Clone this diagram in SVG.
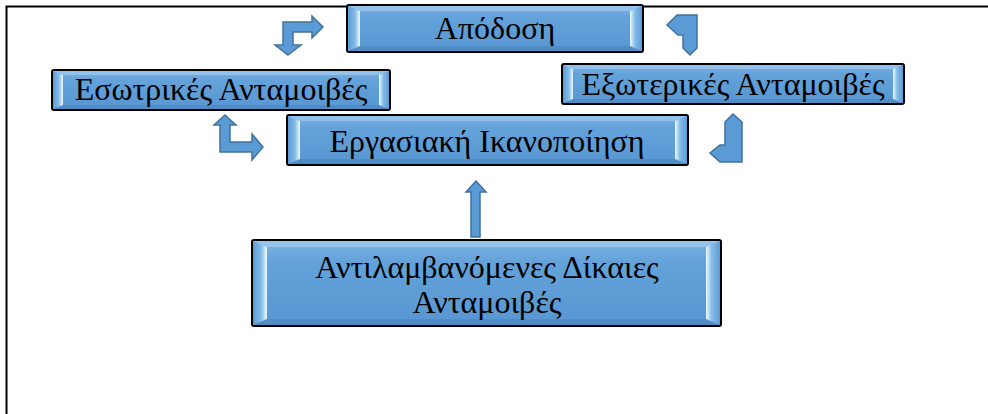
<svg xmlns="http://www.w3.org/2000/svg" width="988" height="414" viewBox="0 0 988 414">
<defs>
<linearGradient id="face" x1="0" y1="0" x2="0" y2="1">
<stop offset="0" stop-color="#7fb3e4"/>
<stop offset="0.25" stop-color="#64a2da"/>
<stop offset="1" stop-color="#5896d2"/>
</linearGradient>
<linearGradient id="bevL" x1="0" y1="0" x2="1" y2="0">
<stop offset="0" stop-color="#5b9bd5"/>
<stop offset="0.6" stop-color="#86bde8"/>
<stop offset="1" stop-color="#eefbff"/>
</linearGradient>
<linearGradient id="bevR" x1="1" y1="0" x2="0" y2="0">
<stop offset="0" stop-color="#5b9bd5"/>
<stop offset="0.6" stop-color="#86bde8"/>
<stop offset="1" stop-color="#eefbff"/>
</linearGradient>
</defs>
<style>
.frame{fill:none;stroke:#000;stroke-width:2}
.box{fill:url(#face);stroke:#000;stroke-width:2}
.bl{fill:url(#bevL)}
.br{fill:url(#bevR)}
.bt{fill:#9cc7ee;opacity:0.8}
.bb{fill:#4d89c2;opacity:0.8}
.arrow{fill:#5b9bd5;stroke:#41719c;stroke-width:1.5;stroke-linejoin:miter}
.lbl{font-family:"Liberation Serif","Times New Roman",serif;font-size:32px;fill:#000;text-anchor:middle}
</style>
<rect width="988" height="414" fill="#fff"/>
<path class="frame" d="M6.5,414 V6.5 H988"/>

<g id="connectors">
<path class="arrow" d="M288,55 L301,45 L293,45 L293,32 L312,32 L312,38 L323,27 L312,16 L312,22 L283,22 L283,45 L275,45 Z"/>
<path class="arrow" d="M677,15 L697,15 L697,48 L690,55 L683,48 L683,35 L678,35 L667,25 Z"/>
<path class="arrow" d="M225,115 L236,125 L230,125 L230,142 L252,142 L252,134 L263,147 L252,160 L252,152 L220,152 L220,125 L214,125 Z"/>
<path class="arrow" d="M733,114 L742,122 L742,162 L720,162 L710,153 L720,145 L725,145 L725,122 Z"/>
<path class="arrow" d="M476,181 L486,192 L480,192 L480,237 L471,237 L471,192 L466,192 Z"/>
</g>

<g id="apodosi">
<rect class="box" x="347" y="5" width="296" height="47" rx="2"/>
<polygon class="bt" points="348,6 642,6 630,11 360,11"/>
<polygon class="bb" points="348,51 642,51 630,46 360,46"/>
<polygon class="bl" points="348,6 360,11 360,46 348,51"/>
<polygon class="br" points="642,6 630,11 630,46 642,51"/>
<text class="lbl" x="495" y="39">Απόδοση</text>
</g>

<g id="esoterikes">
<rect class="box" x="52" y="70" width="338" height="40" rx="2"/>
<polygon class="bt" points="53,71 389,71 379,75 63,75"/>
<polygon class="bb" points="53,109 389,109 379,105 63,105"/>
<polygon class="bl" points="53,71 63,75 63,105 53,109"/>
<polygon class="br" points="389,71 379,75 379,105 389,109"/>
<text class="lbl" x="221" y="100">Εσωτρικές Ανταμοιβές</text>
</g>

<g id="exoterikes">
<rect class="box" x="562" y="64" width="342" height="40" rx="2"/>
<polygon class="bt" points="563,65 903,65 893,69 573,69"/>
<polygon class="bb" points="563,103 903,103 893,99 573,99"/>
<polygon class="bl" points="563,65 573,69 573,99 563,103"/>
<polygon class="br" points="903,65 893,69 893,99 903,103"/>
<text class="lbl" x="733" y="95">Εξωτερικές Ανταμοιβές</text>
</g>

<g id="ergasiaki">
<rect class="box" x="287" y="115" width="401" height="50" rx="2"/>
<polygon class="bt" points="288,116 687,116 675,121 300,121"/>
<polygon class="bb" points="288,164 687,164 675,159 300,159"/>
<polygon class="bl" points="288,116 300,121 300,159 288,164"/>
<polygon class="br" points="687,116 675,121 675,159 687,164"/>
<text class="lbl" x="487" y="152">Εργασιακή Ικανοποίηση</text>
</g>

<g id="antilamvanomenes">
<rect class="box" x="252" y="240" width="469" height="86" rx="2"/>
<polygon class="bt" points="253,241 720,241 706,247 267,247"/>
<polygon class="bb" points="253,325 720,325 706,319 267,319"/>
<polygon class="bl" points="253,241 267,247 267,319 253,325"/>
<polygon class="br" points="720,241 706,247 706,319 720,325"/>
<text class="lbl" x="487" y="278">Αντιλαμβανόμενες Δίκαιες</text>
<text class="lbl" x="487" y="313">Ανταμοιβές</text>
</g>
</svg>
